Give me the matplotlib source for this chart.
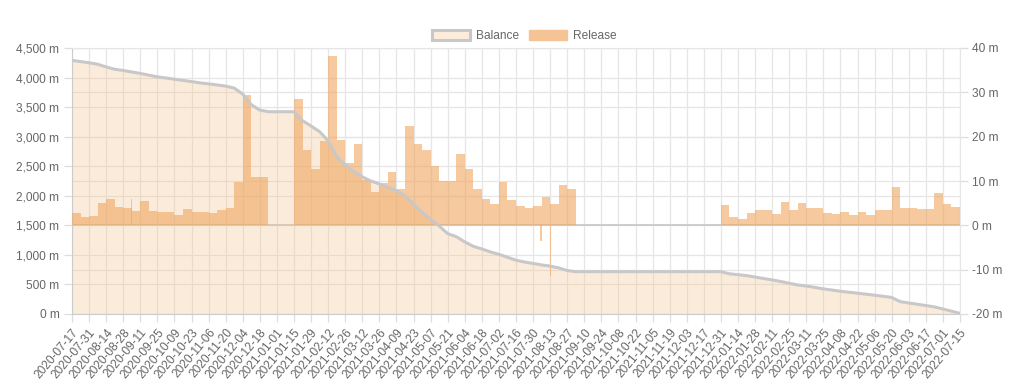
import matplotlib
matplotlib.use("Agg")
import matplotlib.pyplot as plt
import matplotlib.dates as mdates
from matplotlib.patches import Patch
import numpy as np
import pandas as pd

plt.rcParams['font.family'] = ['Liberation Sans', 'DejaVu Sans']

# ---- data -------------------------------------------------------------
start_date = "2020-07-17"

# weekly balance (m), one value per week boundary (105 points)
balance = [4290, 4270, 4250, 4225, 4180, 4140, 4120, 4095, 4070, 4040,
           4012, 3993, 3972, 3952, 3932, 3910, 3893, 3875, 3855, 3822,
           3720, 3540, 3450, 3422, 3422, 3422, 3422, 3270, 3180, 3085,
           2930, 2660, 2520, 2410, 2320, 2250, 2200, 2145, 2086, 2005,
           1860, 1720, 1600, 1490, 1360, 1308, 1220, 1145, 1100, 1050,
           1010, 960, 910, 880, 855, 830, 810, 780, 735, 716,
           716, 716, 716, 716, 716, 716, 716, 716, 716, 716,
           716, 716, 716, 716, 716, 716, 716, 680, 665, 650,
           625, 600, 577, 550, 520, 490, 474, 450, 425, 405,
           385, 368, 352, 335, 318, 300, 280, 209, 186, 165,
           143, 120, 85, 48, 11]

# weekly release (m), one value per week (104 bars)
release = [2.7, 1.8, 2.0, 5.0, 6.0, 4.1, 3.8, 3.2, 5.6, 3.2,
           2.9, 2.9, 2.3, 3.6, 2.9, 2.9, 2.7, 3.5, 3.8, 9.8,
           29.3, 11.0, 11.0, 0, 0, 0, 28.4, 17.1, 12.6, 19.0,
           38.1, 19.3, 14.0, 18.4, 10.3, 7.5, 9.6, 12.0, 8.3, 22.3,
           18.4, 17.1, 13.3, 9.9, 10.1, 16.2, 12.7, 8.1, 6.0, 4.9,
           9.7, 5.7, 4.3, 3.8, 4.3, 6.5, 4.7, 9.0, 8.3, 0,
           0, 0, 0, 0, 0, 0, 0, 0, 0, 0,
           0, 0, 0, 0, 0, 0, 4.5, 1.9, 1.5, 2.8,
           3.4, 3.5, 2.6, 5.3, 3.5, 5.1, 3.8, 3.9, 2.8, 2.6,
           3.0, 2.3, 2.9, 2.4, 3.4, 3.4, 8.6, 3.8, 4.0, 3.6,
           3.6, 7.2, 4.7, 4.2]

# single-day release spikes
spike_dates = ["2020-09-03", "2021-08-05", "2021-08-13"]
spike_values = [6.0, -3.6, -11.5]

x_labels = ["2020-07-17", "2020-07-31", "2020-08-14", "2020-08-28", "2020-09-11",
            "2020-09-25", "2020-10-09", "2020-10-23", "2020-11-06", "2020-11-20",
            "2020-12-04", "2020-12-18", "2021-01-01", "2021-01-15", "2021-01-29",
            "2021-02-12", "2021-02-26", "2021-03-12", "2021-03-26", "2021-04-09",
            "2021-04-23", "2021-05-07", "2021-05-21", "2021-06-04", "2021-06-18",
            "2021-07-02", "2021-07-16", "2021-07-30", "2021-08-13", "2021-08-27",
            "2021-09-10", "2021-09-24", "2021-10-08", "2021-10-22", "2021-11-05",
            "2021-11-19", "2021-12-03", "2021-12-17", "2021-12-31", "2022-01-14",
            "2022-01-28", "2022-02-11", "2022-02-25", "2022-03-11", "2022-03-25",
            "2022-04-08", "2022-04-22", "2022-05-06", "2022-05-20", "2022-06-03",
            "2022-06-17", "2022-07-01", "2022-07-15"]

left_ticks = [0, 500, 1000, 1500, 2000, 2500, 3000, 3500, 4000, 4500]
right_ticks = [-20, -10, 0, 10, 20, 30, 40]

# ---- styling ----------------------------------------------------------
text_col = "#666666"
grid_col = "#e6e6e6"
line_col = "#c8c8c8"
bar_rgba = (240/255, 165/255, 95/255, 0.60)
fill_rgba = (245/255, 192/255, 138/255, 0.30)

fig = plt.figure(figsize=(10.24, 3.89), dpi=100)
ax = fig.add_axes([72/1024, 1-314/389, (960-72)/1024, (314-48)/389])
ax2 = ax.twinx()

week_dates = pd.date_range(start_date, periods=len(balance), freq="7D")
xb = mdates.date2num(week_dates.to_pydatetime())
x0, x1 = xb[0], xb[-1]

ax.set_xlim(x0, x1)
ax.set_ylim(0, 4500)
ax2.set_ylim(-20, 40)

# gridlines (both axes' grids), drawn on the back axes
tick_pos = mdates.date2num(pd.to_datetime(x_labels).to_pydatetime())
for t in tick_pos:
    ax.axvline(t, color=grid_col, lw=0.9, zorder=0)
for v in left_ticks:
    ax.axhline(v, color=grid_col, lw=0.9, zorder=0)
for v in right_ticks:
    lv = (v + 20) * 4500 / 60
    ax.axhline(lv, color=("#cccccc" if v == 0 else grid_col),
               lw=(1.4 if v == 0 else 0.9), zorder=0.5)

# balance area
ax.fill_between(xb, 0, balance, color=fill_rgba, lw=0, zorder=1)

# release bars
ax2.bar(xb[:-1], release, width=7, align="edge", color=bar_rgba, lw=0, zorder=2)
sx = mdates.date2num(pd.to_datetime(spike_dates).to_pydatetime())
ax2.bar(sx, spike_values, width=1, align="edge", color=bar_rgba, lw=0, zorder=2)

# balance line on top
ax2.plot(xb, balance, transform=ax.transData, color=line_col, lw=2.2,
         zorder=3, solid_joinstyle="round")
ax2.set_xlim(x0, x1)

# ticks
ax.set_xticks(tick_pos)
ax.set_xticklabels(x_labels, rotation=50, ha="right", rotation_mode="anchor",
                   fontsize=8.6, color=text_col)
ax.set_yticks(left_ticks)
ax.set_yticklabels([f"{v:,} m" for v in left_ticks], fontsize=8.6, color=text_col)
ax2.set_yticks(right_ticks)
ax2.set_yticklabels([f"{v} m" for v in right_ticks], fontsize=8.6, color=text_col)
for a in (ax, ax2):
    a.tick_params(axis="both", length=6, width=0.9, color="#dddddd", pad=3)
    for s in a.spines.values():
        s.set_visible(False)
ax.spines["left"].set_visible(True)
ax.spines["left"].set_color("#cccccc")
ax.spines["bottom"].set_visible(True)
ax.spines["bottom"].set_color("#cccccc")
ax2.spines["right"].set_visible(True)
ax2.spines["right"].set_color(grid_col)
ax2.spines["top"].set_visible(True)
ax2.spines["top"].set_color(grid_col)

# legend
handles = [Patch(facecolor=(252/255, 236/255, 220/255), edgecolor=line_col, lw=2.2, label="Balance"),
           Patch(facecolor=(245/255, 196/255, 150/255), edgecolor=(245/255, 196/255, 150/255), lw=1, label="Release")]
leg = fig.legend(handles=handles, loc="center", bbox_to_anchor=(0.512, 0.907), ncol=2,
                 frameon=False, fontsize=8.6, handlelength=3.2, handleheight=0.95,
                 handletextpad=0.5, columnspacing=0.8)
for t in leg.get_texts():
    t.set_color(text_col)

fig.savefig("out.png", dpi=100)
